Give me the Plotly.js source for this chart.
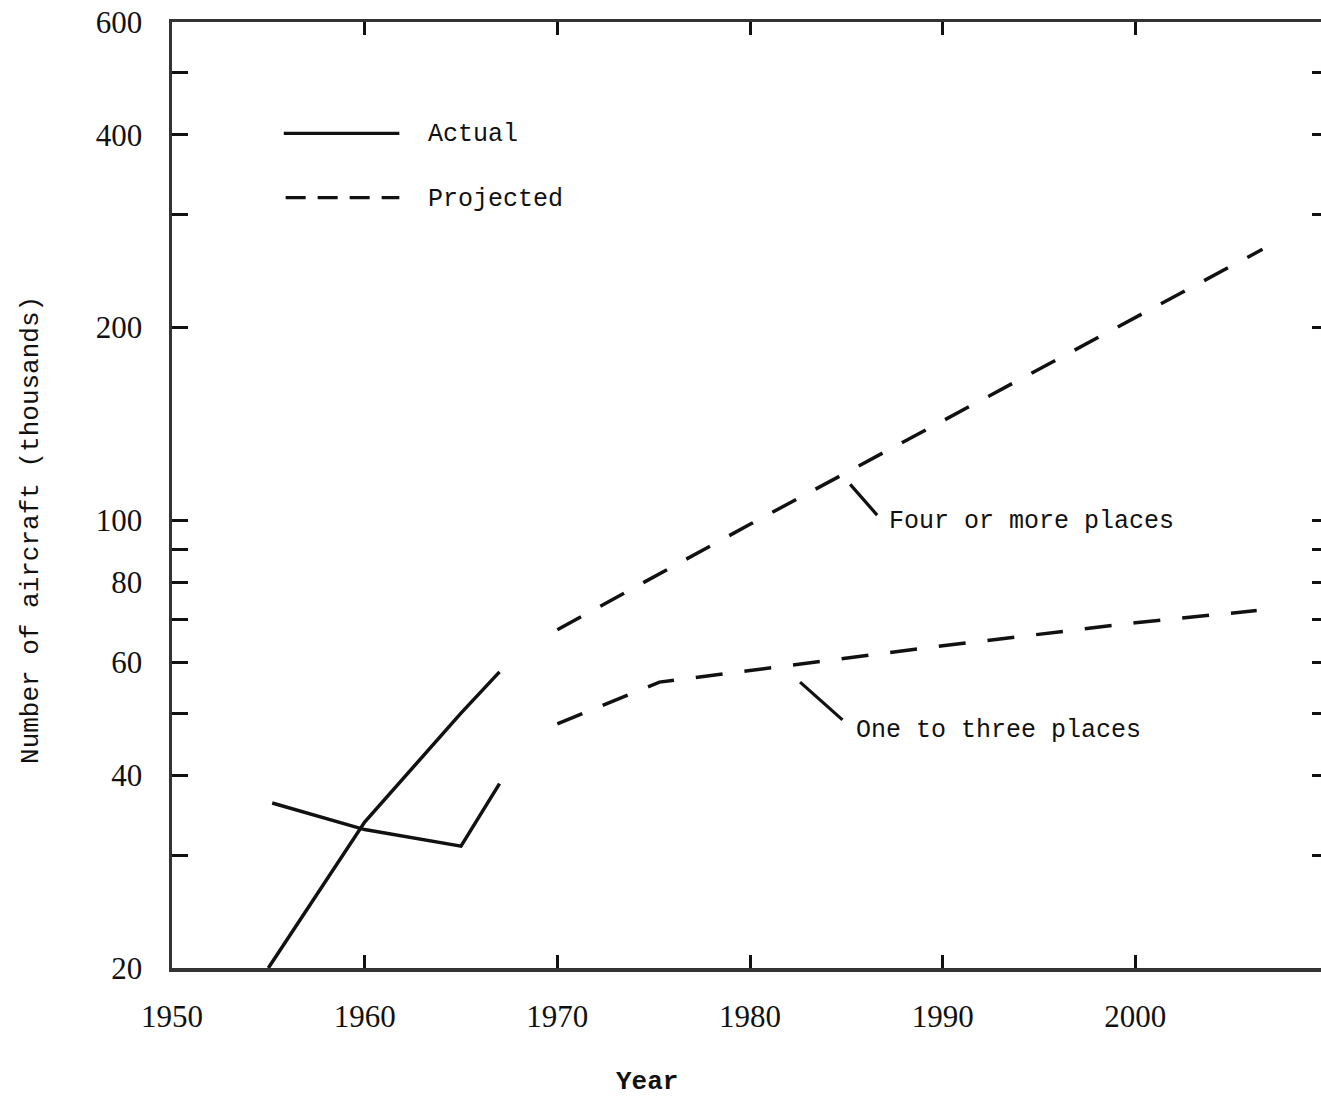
<!DOCTYPE html>
<html>
<head>
<meta charset="utf-8">
<script src="https://cdn.plot.ly/plotly-3.0.1.min.js"></script>
<style>
  html, body { margin: 0; padding: 0; background: #ffffff; overflow: hidden; }
  #chart { width: 1328px; height: 1100px; }
</style>
</head>
<body>
<div id="chart"></div>
<script>
// General aviation fleet, thousands of aircraft
const fourActualYears   = [1955, 1960, 1965, 1967];
const fourActualValues  = [20, 33.8, 50, 58];
const oneActualYears    = [1955.2, 1960, 1965, 1967];
const oneActualValues   = [36.2, 32.9, 31.0, 38.8];

const fourProjYears     = [1970, 1980, 1990, 2000, 2006.6];
const fourProjValues    = [67.5, 98.6, 143, 207, 265];
const oneProjYears      = [1970, 1975.3, 1980, 1990, 2000, 2006.3];
const oneProjValues     = [48.1, 55.9, 58.3, 63.7, 69.2, 72.3];

const xTickVals = [1950, 1960, 1970, 1980, 1990, 2000];
const xTickText = ['1950', '1960', '1970', '1980', '1990', '2000'];
const yTickVals = [20, 30, 40, 50, 60, 70, 80, 90, 100, 200, 300, 400, 500, 600];
const yTickText = ['20', '', '40', '', '60', '', '80', '', '100', '200', '', '400', '', '600'];

const seriesLabels = ['Four or more places', 'One to three places'];
const legendLabels = ['Actual', 'Projected'];

const INK = '#111111';
const MONO = 'Liberation Mono, Courier New, monospace';
const SERIF = 'Liberation Serif, DejaVu Serif, serif';
const DASH = '27px,22px';
const lg = Math.log10;

function trace(x, y, dash, width) {
  return {
    x: x, y: y, type: 'scatter', mode: 'lines',
    line: { color: INK, width: width || 3.5, dash: dash },
    hoverinfo: 'skip', showlegend: false
  };
}

const data = [
  trace(fourActualYears, fourActualValues, 'solid'),
  trace(oneActualYears, oneActualValues, 'solid'),
  trace(fourProjYears, fourProjValues, DASH),
  trace(oneProjYears, oneProjValues, DASH),
  // key samples
  trace([1955.8, 1961.8], [402, 402], 'solid', 3.2),
  trace([1955.9, 1961.8], [319, 319], '20px,12px', 3.2),
  // leader lines to the series labels
  trace([1985.2, 1986.6], [113.8, 101.9], 'solid', 3.2),
  trace([1982.6, 1984.8], [55.9, 48.8], 'solid', 3.2)
];

function label(text, x, v) {
  return {
    text: text, xref: 'x', yref: 'y', x: x, y: lg(v),
    xanchor: 'left', yanchor: 'middle', showarrow: false,
    font: { family: MONO, size: 25, color: INK }
  };
}

const annotations = [
  label(legendLabels[0], 1963.2, 400),
  label(legendLabels[1], 1963.2, 317),
  label(seriesLabels[0], 1987.1, 99.5),
  label(seriesLabels[1], 1985.4, 46.9),
  {
    text: 'Number of aircraft (thousands)', xref: 'paper', yref: 'paper',
    x: -0.122, y: 0.463, xanchor: 'center', yanchor: 'middle', textangle: -90,
    showarrow: false, font: { family: MONO, size: 26, color: INK }
  },
  {
    text: '<b>Year</b>', xref: 'paper', yref: 'paper',
    x: 0.411, y: -0.1205, xanchor: 'center', yanchor: 'middle',
    showarrow: false, font: { family: MONO, size: 26, color: INK }
  }
];

const layout = {
  width: 1328, height: 1100,
  margin: { l: 172, r: 0, t: 22, b: 132, pad: 0 },
  paper_bgcolor: '#ffffff', plot_bgcolor: '#ffffff',
  showlegend: false,
  xaxis: {
    type: 'linear', range: [1950, 2010],
    tickmode: 'array', tickvals: xTickVals, ticktext: xTickText,
    ticks: 'inside', ticklen: 13, tickwidth: 3, tickcolor: INK,
    showline: true, linecolor: '#333333', linewidth: 3.5, mirror: 'allticks',
    showgrid: false, zeroline: false,
    ticklabelstandoff: 18,
    tickfont: { family: SERIF, size: 31, color: INK }
  },
  yaxis: {
    type: 'log', range: [lg(20), lg(600)],
    tickmode: 'array', tickvals: yTickVals, ticktext: yTickText,
    ticks: 'inside', ticklen: 16, tickwidth: 3, tickcolor: INK,
    showline: true, linecolor: '#333333', linewidth: 3.5, mirror: 'allticks',
    showgrid: false, zeroline: false,
    ticklabelstandoff: 20,
    tickfont: { family: SERIF, size: 31, color: INK }
  },
  annotations: annotations
};

Plotly.newPlot('chart', data, layout, { staticPlot: true, displayModeBar: false });
</script>
</body>
</html>
